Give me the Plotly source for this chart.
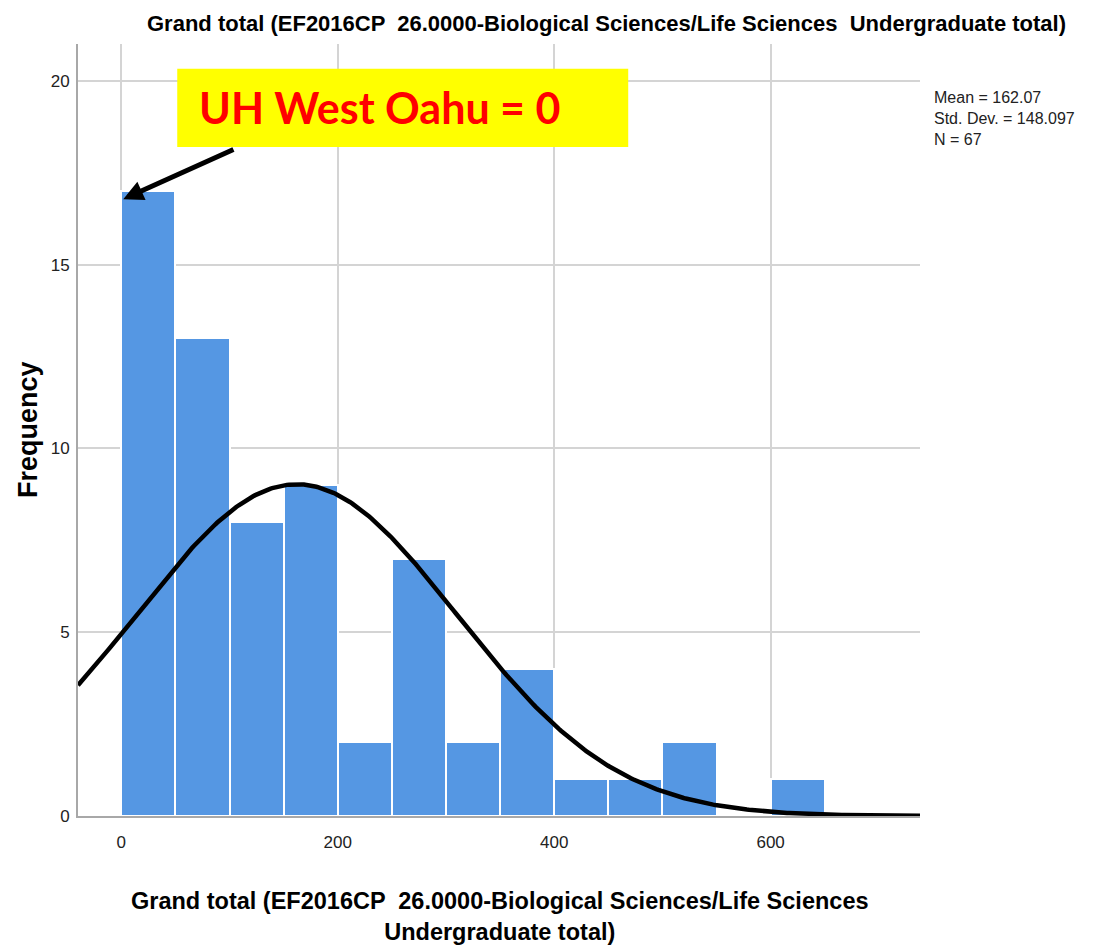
import numpy as np
import plotly.graph_objects as go

# ---- data ----
bin_starts = [0, 50, 100, 150, 200, 250, 300, 350, 400, 450, 500, 550, 600]
counts = [17, 13, 8, 9, 2, 7, 2, 4, 1, 1, 2, 0, 1]
bin_width = 50
mean_val = 162.07
sd_val = 148.097
n_val = 67
x_ticks = [0, 200, 400, 600]
y_ticks = [0, 5, 10, 15, 20]

title_text = "Grand total (EF2016CP  26.0000-Biological Sciences/Life Sciences  Undergraduate total)"
xtitle_text = "Grand total (EF2016CP  26.0000-Biological Sciences/Life Sciences<br>Undergraduate total)"
stats_text = f"Mean = {mean_val}<br>Std. Dev. = {sd_val}<br>N = {n_val}"
callout_text = "UH West Oahu = 0"

FONT = "Liberation Sans Narrow, Arial Narrow, Liberation Sans, Arial, sans-serif"

centers = [s + bin_width / 2 for s in bin_starts]

# fitted normal curve (from the chart's stated mean / sd / N)
xs = np.linspace(-40, 738, 400)
ys = n_val * bin_width / (sd_val * np.sqrt(2 * np.pi)) * np.exp(-0.5 * ((xs - mean_val) / sd_val) ** 2)

# page body has an 8px margin, so the figure is drawn 8px in from the corner
W, H = 1093, 943
L, T = 70, 36
PW, PH = 842, 772

fig = go.Figure()
fig.add_trace(go.Bar(
    x=centers, y=counts, width=bin_width,
    marker=dict(color="#5597e3", line=dict(color="white", width=2)),
    hoverinfo="skip", showlegend=False,
))
fig.add_trace(go.Scatter(
    x=xs, y=ys, mode="lines",
    line=dict(color="black", width=4.5),
    hoverinfo="skip", showlegend=False,
))

def px(xpix):
    return (xpix - 8 - L) / PW

def py(ypix):
    return 1 - (ypix - 8 - T) / PH

fig.update_layout(
    width=W, height=H,
    margin=dict(l=L, r=W - L - PW, t=T, b=H - T - PH),
    paper_bgcolor="white", plot_bgcolor="white",
    bargap=0,
    font=dict(family=FONT, color="#222"),
    xaxis=dict(
        range=[-40, 738], tickvals=x_ticks, showgrid=True,
        gridcolor="#d4d4d4", gridwidth=1.5, zeroline=False,
        showline=True, linecolor="#a8a8a8", linewidth=2,
        ticks="", ticklabelstandoff=10,
        tickfont=dict(size=17, color="#222", family=FONT),
    ),
    yaxis=dict(
        range=[0, 21], tickvals=y_ticks, showgrid=True,
        gridcolor="#d4d4d4", gridwidth=1.5, zeroline=False,
        showline=True, linecolor="#a8a8a8", linewidth=2,
        ticks="", ticklabelstandoff=3,
        tickfont=dict(size=17, color="#222", family=FONT),
    ),
    shapes=[
        dict(type="rect", xref="x", yref="y", x0=51.7, x1=468.4, y0=18.2, y1=20.33,
             fillcolor="#ffff00", line=dict(width=0), layer="above"),
    ],
    annotations=[
        dict(text=f"<b>{title_text}</b>", xref="paper", yref="paper",
             x=px(606), y=py(24),
             xanchor="center", yanchor="middle", showarrow=False,
             font=dict(size=22, color="black", family=FONT)),
        dict(text=f"<b>{xtitle_text}</b>", xref="paper", yref="paper",
             x=px(500), y=py(916),
             xanchor="center", yanchor="middle", showarrow=False,
             font=dict(size=23.5, color="black", family=FONT)),
        dict(text="<b>Frequency</b>", xref="paper", yref="paper",
             x=px(28), y=py(430), textangle=-90,
             xanchor="center", yanchor="middle", showarrow=False,
             font=dict(size=27, color="black", family="Liberation Sans, Arial, sans-serif")),
        dict(text=stats_text, xref="paper", yref="paper",
             x=px(932), y=py(87),
             xanchor="left", yanchor="top", align="left", showarrow=False,
             font=dict(size=16, color="#222", family=FONT)),
        dict(text=f"<b>{callout_text}</b>", x=70.2, y=19.26,
             xref="x", yref="y", showarrow=False,
             xanchor="left", yanchor="middle",
             font=dict(size=43, color="#ff0000", family="Lato, Liberation Sans, sans-serif")),
        dict(text="", x=1.8, y=16.78, ax=105, ay=18.15,
             xref="x", yref="y", axref="x", ayref="y",
             showarrow=True, arrowhead=2, arrowsize=0.8, arrowwidth=5,
             arrowcolor="black", standoff=0),
    ],
)

fig.write_html("out.html")
